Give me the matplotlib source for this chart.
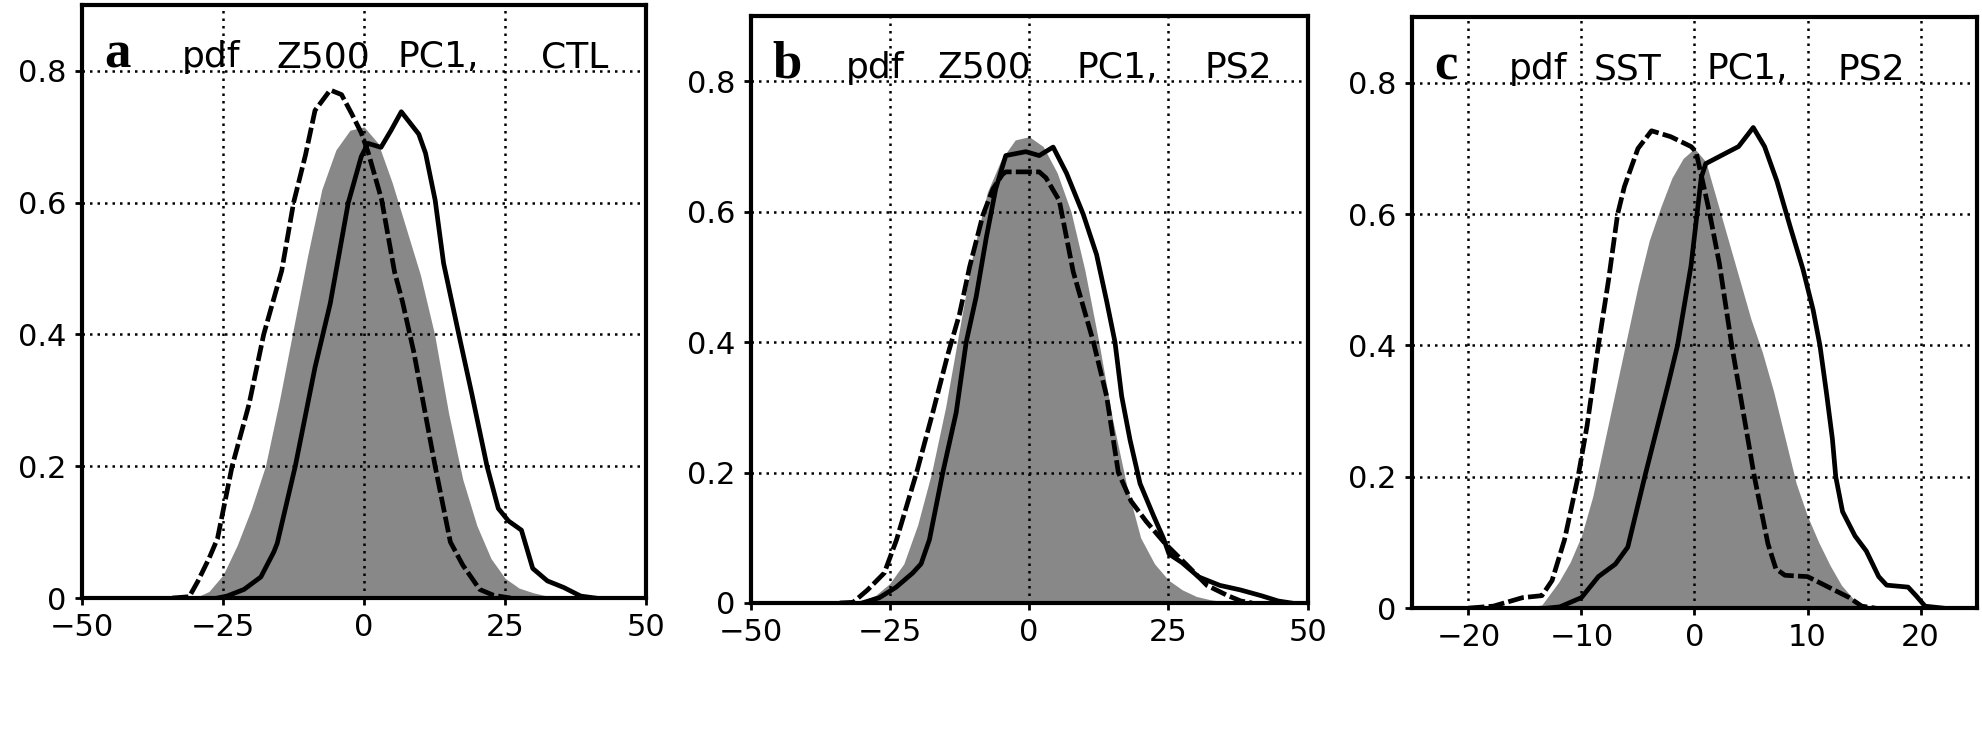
import matplotlib
matplotlib.use("Agg")
import matplotlib.pyplot as plt

# panel a: Z500 PC1, CTL
a_gray_x = [-30, -27.5, -25, -22.5, -20, -17.5, -15, -12.5, -10, -7.5, -5, -2.5, 0, 2.5, 5, 7.5,
            10, 12.5, 15, 17.5, 20, 22.5, 25, 27.5, 30, 32.5, 35]
a_gray_y = [0, 0.01, 0.035, 0.08, 0.135, 0.2, 0.30, 0.41, 0.52, 0.62, 0.68, 0.71, 0.715, 0.69, 0.63, 0.56,
            0.49, 0.40, 0.28, 0.18, 0.11, 0.06, 0.03, 0.015, 0.008, 0.003, 0]
a_dash_x = [-34, -31, -29.5, -27.5, -26, -23.4, -20.4, -17.8, -14.6, -12.5, -10.4, -8.7, -6.0, -4.0, -2.2,
            -0.5, 0.7, 3.1, 5.4, 6.8, 8.8, 12.6, 15.3, 17.5, 20.5, 23, 26]
a_dash_y = [0, 0.002, 0.025, 0.06, 0.09, 0.2, 0.294, 0.4, 0.497, 0.6, 0.672, 0.74, 0.771, 0.764, 0.735,
            0.706, 0.677, 0.605, 0.495, 0.45, 0.374, 0.2, 0.085, 0.05, 0.013, 0.004, 0]
a_solid_x = [-26, -24.3, -21.3, -18.3, -16, -15.4, -12.2, -8.7, -6.0, -2.8, -0.5, 0.7, 3.0, 4.8, 6.6,
             9.7, 10.9, 12.6, 14.1, 16.8, 19.1, 21.8, 23.8, 25.6, 27.9, 29.9, 32.5, 35.4, 38.4, 41]
a_solid_y = [0, 0.003, 0.013, 0.032, 0.07, 0.083, 0.2, 0.35, 0.447, 0.6, 0.67, 0.69, 0.684, 0.71, 0.738,
             0.704, 0.675, 0.604, 0.508, 0.4, 0.31, 0.2, 0.136, 0.117, 0.103, 0.045, 0.026, 0.016, 0.003, 0]

# panel b: Z500 PC1, PS2
b_gray_x = [-32.5, -30, -27.5, -25, -22.5, -20, -17.5, -15, -12.5, -10, -7.5, -5, -2.5, 0, 2.5, 5, 7.5,
            10, 12.5, 15, 17.5, 20, 22.5, 25, 27.5, 30, 32.5, 35, 37.5]
b_gray_y = [0, 0.003, 0.012, 0.03, 0.06, 0.12, 0.2, 0.30, 0.42, 0.54, 0.63, 0.68, 0.71, 0.715, 0.70, 0.66,
            0.60, 0.51, 0.40, 0.28, 0.18, 0.10, 0.06, 0.035, 0.02, 0.01, 0.005, 0.002, 0]
b_dash_x = [-34, -31.6, -29, -26, -23.8, -20.2, -17.3, -14.6, -12.5, -10.7, -8.3, -6.5, -4.8, -4.2, 1.8,
            3.0, 5.4, 7.9, 11.5, 13.9, 16.0, 18.3, 21, 24.4, 28.2, 31.9, 35.7, 38, 40]
b_dash_y = [0, 0.001, 0.02, 0.046, 0.097, 0.2, 0.292, 0.381, 0.443, 0.515, 0.595, 0.635, 0.657, 0.661, 0.661,
            0.652, 0.617, 0.508, 0.401, 0.317, 0.2, 0.156, 0.125, 0.091, 0.059, 0.027, 0.011, 0.003, 0]
b_solid_x = [-30, -26.9, -23.9, -20.9, -19.4, -17.9, -15.5, -13.1, -11.3, -9.5, -7.7, -6.0, -4.2, -0.6, 1.8,
             4.3, 6.7, 9.7, 12.1, 13.9, 15.4, 16.6, 18.1, 19.9, 22.3, 24.1, 25.1, 27.4, 30.4, 34.2, 37.9,
             41.7, 44.7, 47]
b_solid_y = [0, 0.008, 0.024, 0.046, 0.06, 0.097, 0.2, 0.292, 0.4, 0.47, 0.56, 0.635, 0.686, 0.692, 0.686,
             0.699, 0.659, 0.596, 0.534, 0.463, 0.4, 0.317, 0.25, 0.183, 0.134, 0.099, 0.075, 0.062, 0.04,
             0.027, 0.02, 0.011, 0.003, 0]

# panel c: SST PC1, PS2
c_gray_x = [-15, -13.5, -12, -11, -10, -9, -8, -7, -6, -5, -4, -3, -2, -1, 0, 1, 2, 3, 4, 5, 6, 7, 8, 9,
            10, 11, 12, 13, 14, 15, 15.5]
c_gray_y = [0, 0.005, 0.04, 0.07, 0.11, 0.17, 0.25, 0.33, 0.41, 0.49, 0.56, 0.61, 0.655, 0.685, 0.70, 0.68,
            0.62, 0.56, 0.50, 0.44, 0.39, 0.33, 0.26, 0.19, 0.14, 0.10, 0.065, 0.035, 0.015, 0.003, 0]
c_dash_x = [-20, -17.8, -15.2, -13.5, -12.6, -11.5, -10.3, -9.5, -8.5, -7.6, -6.8, -6.2, -5.0, -3.8, -2.1,
            -0.3, 0.14, 1.3, 2.2, 3.3, 4.5, 5.3, 6.5, 7.2, 8.0, 10, 10.7, 12.2, 13.7, 14.8, 16]
c_dash_y = [0, 0.003, 0.016, 0.019, 0.042, 0.104, 0.2, 0.278, 0.4, 0.5, 0.6, 0.642, 0.7, 0.727, 0.718,
            0.703, 0.695, 0.605, 0.525, 0.4, 0.28, 0.2, 0.098, 0.06, 0.05, 0.048, 0.042, 0.029, 0.016, 0.003, 0]
c_solid_x = [-13, -11.9, -10, -8.5, -7, -5.9, -4.4, -2.3, -1.5, -0.3, 0.6, 1.0, 3.0, 3.9, 5.2, 6.2, 7.3,
             8.5, 9.6, 10.5, 11.1, 11.7, 12.2, 12.5, 13.1, 14.2, 15.2, 16.3, 17.0, 18.9, 19.6, 20.4, 22]
c_solid_y = [0, 0.002, 0.016, 0.048, 0.067, 0.093, 0.2, 0.343, 0.4, 0.522, 0.656, 0.677, 0.695, 0.703, 0.732,
             0.703, 0.65, 0.579, 0.516, 0.454, 0.4, 0.325, 0.258, 0.2, 0.147, 0.11, 0.087, 0.048, 0.035,
             0.032, 0.019, 0.003, 0]

letters = ["a", "b", "c"]
title_words = [["pdf", "Z500", "PC1,", "CTL"],
               ["pdf", "Z500", "PC1,", "PS2"],
               ["pdf", "SST", "PC1,", "PS2"]]
word_x = [[0.176, 0.344, 0.560, 0.814],
          [0.170, 0.336, 0.585, 0.815],
          [0.172, 0.321, 0.522, 0.753]]
xlims = [(-50, 50), (-50, 50), (-25, 25)]
xticks = [[-50, -25, 0, 25, 50], [-50, -25, 0, 25, 50], [-20, -10, 0, 10, 20]]
yticks = [0, 0.2, 0.4, 0.6, 0.8]
ytick_labels = ["0", "0.2", "0.4", "0.6", "0.8"]

rects = [[0.0414, 0.2005, 0.2844, 0.7928],
         [0.3785, 0.1939, 0.2810, 0.7847],
         [0.7120, 0.1870, 0.2850, 0.7900]]

panels = [
    (a_gray_x, a_gray_y, a_dash_x, a_dash_y, a_solid_x, a_solid_y),
    (b_gray_x, b_gray_y, b_dash_x, b_dash_y, b_solid_x, b_solid_y),
    (c_gray_x, c_gray_y, c_dash_x, c_dash_y, c_solid_x, c_solid_y),
]

fig = plt.figure(figsize=(19.83, 7.48), dpi=100)

for i, (gx, gy, dx, dy, sx, sy) in enumerate(panels):
    ax = fig.add_axes(rects[i])
    ax.fill_between(gx, gy, 0, color="#888888", lw=0, zorder=1)
    ax.plot(dx, dy, color="k", lw=3.4, dashes=(3.4, 0.9), zorder=3)
    ax.plot(sx, sy, color="k", lw=3.4, solid_joinstyle="round", zorder=3)

    ax.set_xlim(*xlims[i])
    ax.set_ylim(0, 0.9)
    ax.set_xticks(xticks[i])
    ax.set_yticks(yticks)
    ax.set_yticklabels(ytick_labels)
    ax.set_axisbelow(False)
    ax.grid(True, color="k", linestyle=(0, (1, 2)), lw=1.8)
    for sp in ax.spines.values():
        sp.set_linewidth(3)
    ax.tick_params(labelsize=22, direction="out", length=5, width=2, pad=6)

    ax.text(0.04, 0.895, letters[i], transform=ax.transAxes, fontsize=38,
            fontweight="bold", family="Liberation Serif", va="baseline", ha="left", zorder=5)
    for w, wx in zip(title_words[i], word_x[i]):
        ax.text(wx, 0.895, w, transform=ax.transAxes, fontsize=26,
                family="DejaVu Sans", va="baseline", ha="left", zorder=5)

fig.savefig("out.png", dpi=100)
